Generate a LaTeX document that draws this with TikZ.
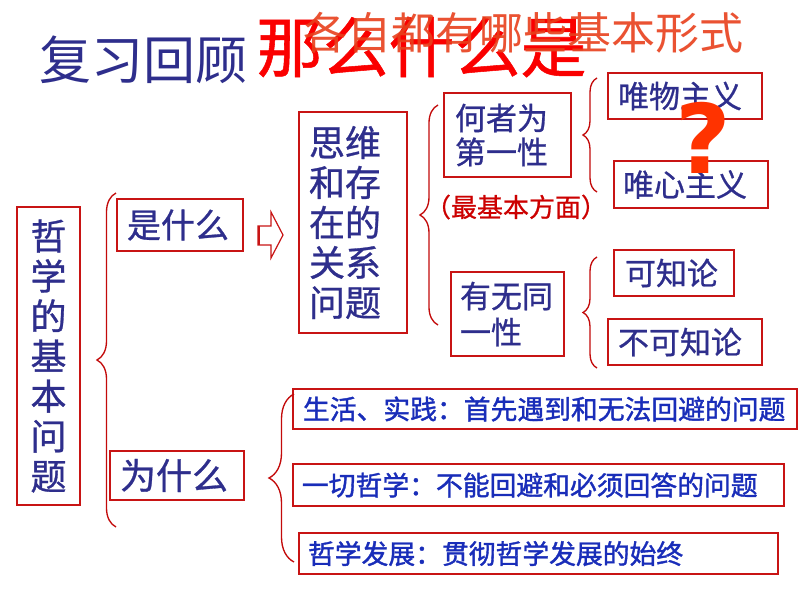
\documentclass[tikz,border=0pt]{standalone}
\usepackage{fontspec}
\newfontfamily\cjk{Noto Sans CJK SC}
\newfontfamily\cjkm[FakeBold=0.8]{Noto Sans CJK SC}
\newfontfamily\cjkb[FakeBold=1.4]{Noto Sans CJK SC}
\newfontfamily\qmark{DejaVu Sans}
\usetikzlibrary{decorations.pathreplacing}
\definecolor{navyc}{RGB}{46,46,140}
\definecolor{bluec}{RGB}{25,45,185}
\definecolor{boxred}{RGB}{200,20,20}
\definecolor{bracered}{RGB}{195,10,10}
\definecolor{titlered}{RGB}{250,0,0}
\definecolor{orangered}{RGB}{232,64,28}
\definecolor{qcolor}{RGB}{255,51,0}
\definecolor{labred}{RGB}{204,0,0}
\tikzset{
  bx/.style n args={4}{draw=boxred, line width=0.9pt, inner ysep=0pt,
    minimum width=#1, minimum height=#2, inner xsep=#3, text width=#4, align=left},
  brc/.style={draw=bracered, line width=1pt, decorate,
    decoration={brace, amplitude=#1}},
  navytext/.style={text=navyc},
  bluetext/.style={text=bluec},
}
\begin{document}
\begin{tikzpicture}[x=0.75pt,y=-0.75pt]
\useasboundingbox[fill=white] (0,0) rectangle (800,600);

% titles
\node[navytext, font={\cjk\fontsize{39pt}{42pt}\selectfont}, inner sep=0pt] (t1) at (143.5,60) {复习回顾};
\node[text=titlered, font={\cjkm\fontsize{49.5pt}{52pt}\selectfont}, inner sep=0pt] (t2) at (421.5,47) {那么什么是};
\node[text=orangered, text opacity=0.9, font={\cjk\fontsize{33pt}{36pt}\selectfont}, inner sep=0pt] (t3) at (523,33) {各自都有哪些基本形式};

% left column
\node[draw=boxred, line width=0.9pt, navytext, minimum width=47.25pt, minimum height=223.5pt,
  inner ysep=0pt, inner xsep=10.125pt, text width=27pt, align=center,
  font={\cjkm\fontsize{27pt}{30pt}\selectfont}] (q) at (48.5,356)
  {哲\\学\\的\\基\\本\\问\\题};
\node[bx={94.5pt}{39pt}{7.5pt}{79.5pt}, navytext, font={\cjkm\fontsize{25.5pt}{28pt}\selectfont}] (shi) at (180,225) {是什么};
\node[bx={100.5pt}{36.75pt}{7.5pt}{85.5pt}, navytext, font={\cjkm\fontsize{27pt}{30pt}\selectfont}] (wei) at (177,475.5) {为什么};

% arrow
\draw[draw=boxred, line width=0.9pt, fill=white] (258,226) -- (271,226) -- (271,212) -- (283,235) -- (271,258) -- (271,245) -- (258,245) -- cycle;
\draw[draw=boxred, line width=1.6pt] (259,226) -- (259,245);

% middle
\node[bx={81pt}{165.75pt}{7.5pt}{66pt}, navytext, font={\cjkm\fontsize{27pt}{30pt}\selectfont}] (siwei) at (353,222.5) {思维\\和存\\在的\\关系\\问题};
\node[bx={95.25pt}{63pt}{8.25pt}{78.75pt}, navytext, font={\cjkm\fontsize{23.25pt}{25.5pt}\selectfont}] (hezhe) at (507.5,135) {何者为\\第一性};
\node[bx={84.75pt}{63pt}{6.75pt}{71.25pt}, navytext, font={\cjkm\fontsize{23.25pt}{27pt}\selectfont}] (youwu) at (507.5,314) {有无同\\一性};
\node[text=labred, font={\cjkm\fontsize{19.5pt}{22pt}\selectfont}, inner sep=0pt] (zjb) at (516,207) {（最基本方面）};

% right
\node[bx={115.5pt}{34.5pt}{7.5pt}{100.5pt}, navytext, font={\cjkm\fontsize{23.25pt}{26pt}\selectfont}] (wm) at (685,96) {唯物主义};
\node[bx={115.5pt}{35.25pt}{6.75pt}{102pt}, navytext, font={\cjkm\fontsize{23.25pt}{26pt}\selectfont}] (wx) at (691,184.5) {唯心主义};
\node[bx={90pt}{34.5pt}{8.25pt}{73.5pt}, navytext, font={\cjkm\fontsize{23.25pt}{26pt}\selectfont}] (kz) at (674,273) {可知论};
\node[bx={115.5pt}{34.5pt}{7.5pt}{100.5pt}, navytext, font={\cjkm\fontsize{23.25pt}{26pt}\selectfont}] (bkz) at (685,342) {不可知论};

% question mark over the boxes
\node[text=qcolor, font={\qmark\bfseries\fontsize{72pt}{76pt}\selectfont}, inner sep=0pt] (qm) at (703,138) {?};

% bottom
\node[bx={378pt}{30pt}{7.5pt}{363pt}, bluetext, font={\cjkb\fontsize{20.1pt}{23pt}\selectfont}] (sh) at (545,409) {生活、实践：首先遇到和无法回避的问题};
\node[bx={368.25pt}{31.5pt}{6.75pt}{354.75pt}, bluetext, font={\cjkb\fontsize{20.1pt}{23pt}\selectfont}] (yq) at (538.5,485) {一切哲学：不能回避和必须回答的问题};
\node[bx={359.25pt}{30.75pt}{6.75pt}{345.75pt}, bluetext, font={\cjkb\fontsize{20.1pt}{23pt}\selectfont}] (fz) at (538.5,553.5) {哲学发展：贯彻哲学发展的始终};

% braces
\coordinate (b1t) at (116,193); \coordinate (b1b) at (116,527);
\coordinate (b2t) at (438,105); \coordinate (b2b) at (438,325);
\coordinate (b3t) at (597,78);  \coordinate (b3b) at (597,192);
\coordinate (b4t) at (597,257); \coordinate (b4b) at (597,368);
\coordinate (b5t) at (294,394); \coordinate (b5b) at (294,562);
\draw[brc=14.25pt] (b1b) -- (b1t);
\draw[brc=13.5pt] (b2b) -- (b2t);
\draw[brc=10.5pt] (b3b) -- (b3t);
\draw[brc=10.5pt] (b4b) -- (b4t);
\draw[brc=18.75pt] (b5b) -- (b5t);
\end{tikzpicture}
\end{document}
